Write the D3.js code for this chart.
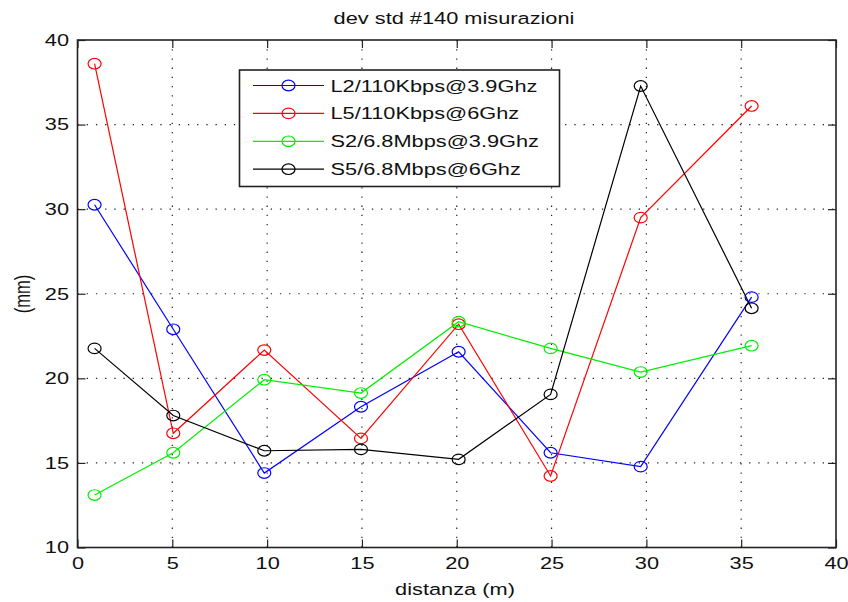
<!DOCTYPE html>
<html>
<head>
<meta charset="utf-8">
<script src="https://cdn.jsdelivr.net/npm/d3@7"></script>
<style>
  html, body { margin: 0; padding: 0; background: #fff; }
  svg { display: block; }
  text { font-family: "Liberation Sans", Arial, sans-serif; fill: #111; }
</style>
</head>
<body>
<svg id="chart" width="848" height="602"></svg>
<script>
// ---- data ----
const distances = [0.9, 5.05, 9.85, 14.95, 20.1, 24.95, 29.7, 35.55];
const seriesNames = ["L2/110Kbps@3.9Ghz", "L5/110Kbps@6Ghz", "S2/6.8Mbps@3.9Ghz", "S5/6.8Mbps@6Ghz"];
const seriesColors = ["#0000ff", "#ff0000", "#00ee00", "#000000"];
const valuesL2 = [30.26, 22.9, 14.4, 18.32, 21.57, 15.6, 14.78, 24.8];
const valuesL5 = [38.6, 16.75, 21.67, 16.45, 23.2, 14.23, 29.5, 36.1];
const valuesS2 = [13.1, 15.6, 19.92, 19.13, 23.35, 21.77, 20.37, 21.93];
const valuesS5 = [21.77, 17.8, 15.72, 15.8, 15.21, 19.05, 37.28, 24.14];
const xTicks = [0, 5, 10, 15, 20, 25, 30, 35, 40];
const yTicks = [10, 15, 20, 25, 30, 35, 40];
const titleText = "dev std #140 misurazioni";
const xLabel = "distanza (m)";
const yLabel = "(mm)";

const seriesValues = [valuesL2, valuesL5, valuesS2, valuesS5];

// ---- layout ----
const svg = d3.select("#chart");
const pL = 77.5, pR = 836, pT = 40, pB = 547.5;
const SX = 1.32;          // horizontal stretch of the original raster text
const FS = 16.5;

const x = d3.scaleLinear().domain([0, 40]).range([pL, pR]);
const y = d3.scaleLinear().domain([10, 40]).range([pB, pT]);

// grid
const grid = svg.append("g");
grid.selectAll("line.vg").data(xTicks.filter(t => t > 0 && t < 40)).join("line")
  .attr("x1", d => x(d)).attr("x2", d => x(d)).attr("y1", pT).attr("y2", pB)
  .attr("stroke", "#222").attr("stroke-width", 1.2).attr("stroke-dasharray", "1.3,7.9");
grid.selectAll("line.hg").data(yTicks.filter(t => t > 10 && t < 40)).join("line")
  .attr("y1", d => y(d)).attr("y2", d => y(d)).attr("x1", pL).attr("x2", pR)
  .attr("stroke", "#222").attr("stroke-width", 1.2).attr("stroke-dasharray", "1.3,7.9");

// axes (inward ticks on all four sides)
const tickLen = 8;
svg.append("g").attr("transform", `translate(0,${pB})`)
  .call(d3.axisBottom(x).tickValues(xTicks).tickSizeInner(-tickLen).tickSizeOuter(0).tickPadding(9.5))
  .call(g => g.select(".domain").remove());
svg.append("g").attr("transform", `translate(0,${pT})`)
  .call(d3.axisTop(x).tickValues(xTicks).tickSizeInner(-tickLen).tickSizeOuter(0).tickFormat(""))
  .call(g => g.select(".domain").remove());
svg.append("g").attr("transform", `translate(${pL},0)`)
  .call(d3.axisLeft(y).tickValues(yTicks).tickSizeInner(-tickLen).tickSizeOuter(0).tickPadding(8.5))
  .call(g => g.select(".domain").remove());
svg.append("g").attr("transform", `translate(${pR},0)`)
  .call(d3.axisRight(y).tickValues(yTicks).tickSizeInner(-tickLen).tickSizeOuter(0).tickFormat(""))
  .call(g => g.select(".domain").remove());

svg.selectAll(".tick line").attr("stroke", "#222").attr("stroke-width", 1.2);
// stretch tick label text horizontally
svg.selectAll(".tick text").each(function() {
  const t = d3.select(this);
  const tx = +t.attr("x") || 0, ty = +t.attr("y") || 0;
  t.attr("x", null).attr("y", null)
   .attr("transform", `translate(${tx},${ty}) scale(${SX},1)`)
   .style("font-size", FS + "px").attr("fill", "#111")
   .style("font-family", '"Liberation Sans", Arial, sans-serif');
});

// frame
svg.append("rect").attr("x", pL).attr("y", pT).attr("width", pR - pL).attr("height", pB - pT)
  .attr("fill", "none").attr("stroke", "#222").attr("stroke-width", 1.6);

// series
const line = d3.line().x((d, i) => x(distances[i])).y(d => y(d));
seriesValues.forEach((vals, s) => {
  const g = svg.append("g");
  g.append("path").datum(vals).attr("d", line)
    .attr("fill", "none").attr("stroke", seriesColors[s]).attr("stroke-width", 1.2);
  g.selectAll("ellipse").data(vals).join("ellipse")
    .attr("cx", (d, i) => x(distances[i])).attr("cy", d => y(d))
    .attr("rx", 6.5).attr("ry", 5.3)
    .attr("fill", "none").attr("stroke", seriesColors[s]).attr("stroke-width", 1.2);
});

// legend
const lg = svg.append("g");
const lgX = 239.5, lgY = 70, lgW = 320, lgH = 116.5, rowY0 = 85.5, rowDy = 27.9;
lg.append("rect").attr("x", lgX).attr("y", lgY).attr("width", lgW).attr("height", lgH)
  .attr("fill", "#fff").attr("stroke", "#222").attr("stroke-width", 1.6);
seriesNames.forEach((name, s) => {
  const yy = rowY0 + s * rowDy;
  lg.append("line").attr("x1", 253).attr("x2", 324).attr("y1", yy).attr("y2", yy)
    .attr("stroke", seriesColors[s]).attr("stroke-width", 1.2);
  lg.append("ellipse").attr("cx", 288.5).attr("cy", yy).attr("rx", 6.5).attr("ry", 5.3)
    .attr("fill", "none").attr("stroke", seriesColors[s]).attr("stroke-width", 1.2);
  lg.append("text").attr("transform", `translate(330.5,${yy + 6}) scale(${SX},1)`)
    .style("font-size", FS + "px").text(name);
});

// title and labels
svg.append("text").attr("transform", `translate(454,24) scale(${SX},1)`)
  .attr("text-anchor", "middle").style("font-size", FS + "px").text(titleText);
svg.append("text").attr("transform", `translate(455,595) scale(${SX},1)`)
  .attr("text-anchor", "middle").style("font-size", FS + "px").text(xLabel);
svg.append("text").attr("transform", `translate(30,294) scale(${SX},1) rotate(-90)`)
  .attr("text-anchor", "middle").style("font-size", FS + "px").text(yLabel);
</script>
</body>
</html>
